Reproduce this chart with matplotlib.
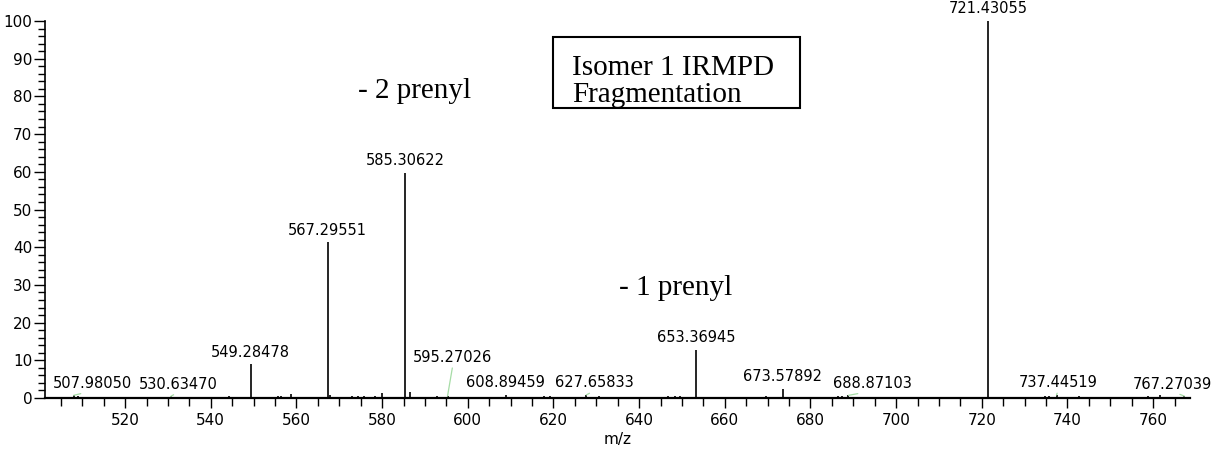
import numpy as np
import matplotlib
matplotlib.use("Agg")
from matplotlib import pyplot as plt
from matplotlib.patches import Rectangle
from matplotlib.ticker import MultipleLocator

# Centroided peaks: m/z and relative abundance (%)
mz = [507.98050, 509.0, 530.63470, 531.2, 544.3, 549.28478, 555.6, 556.3,
      558.7, 567.29551, 567.9, 572.9, 574.3, 575.8, 578.3, 579.9,
      585.30622, 586.6, 592.9, 595.27026, 602.4, 608.89459, 614.6,
      617.7, 619.3, 622.3, 627.65833, 630.6, 646.8, 648.4, 649.6,
      653.36945, 669.7, 673.57892, 686.5, 687.3, 688.87103, 694.7,
      697.4, 719.5, 721.43055, 734.8, 735.6, 737.44519, 742.8,
      758.8, 761.5, 767.27039]
intensity = [0.7, 0.4, 0.4, 0.3, 0.6, 9.0, 0.5, 0.5,
             1.0, 41.3, 0.9, 0.4, 0.6, 0.5, 0.5, 1.2,
             59.7, 1.5, 0.5, 0.5, 0.3, 0.8, 0.3,
             0.4, 0.4, 0.3, 0.8, 0.4, 0.4, 0.4, 0.4,
             12.8, 0.5, 2.4, 0.4, 0.4, 0.7, 0.3,
             0.2, 0.3, 100.0, 0.4, 0.4, 0.8, 0.6,
             0.4, 0.7, 0.5]

# Peaks that carry an m/z label
labeled = [507.98050, 530.63470, 549.28478, 567.29551, 585.30622,
           595.27026, 608.89459, 627.65833, 653.36945, 673.57892,
           688.87103, 721.43055, 737.44519, 767.27039]
# where the label text is centred (m/z) when it is moved off the peak
label_x = {507.98050: 512.3, 530.63470: 532.4, 595.27026: 596.5,
           627.65833: 629.6, 688.87103: 694.5, 737.44519: 737.8,
           767.27039: 764.6}
label_y = {595.27026: 8.7}

fig = plt.figure(figsize=(12.13, 4.53), dpi=100)
ax = fig.add_axes([45 / 1213, 1 - 398 / 453, 1145 / 1213, 377 / 453])

ax.vlines(mz, 0, intensity, color="black", lw=1.2)

peak_h = dict(zip(mz, intensity))
for m in labeled:
    h = peak_h[m]
    tx = label_x.get(m, m)
    ty = label_y.get(m, h + 1.2)
    if tx != m:
        ax.annotate(f"{m:.5f}", xy=(m, h), xytext=(tx, ty), ha="center",
                    va="bottom", fontsize=10.5, family="DejaVu Sans",
                    annotation_clip=False,
                    arrowprops=dict(arrowstyle="-", color="#a6dca6", lw=0.9,
                                    shrinkA=0, shrinkB=0, relpos=(0.5, 0)))
    else:
        ax.text(tx, ty, f"{m:.5f}", ha="center", va="bottom", fontsize=10.5,
                family="DejaVu Sans")

ax.text(587.5, 81.4, "- 2 prenyl", ha="center", va="center", fontsize=21,
        family="Liberation Serif")
ax.text(648.6, 29.2, "- 1 prenyl", ha="center", va="center", fontsize=21,
        family="Liberation Serif")

# title box
fig.patches.append(Rectangle((553 / 1213, 1 - 108 / 453), 247 / 1213,
                             71 / 453, transform=fig.transFigure,
                             fill=False, edgecolor="black", lw=1.5))
fig.text(572 / 1213, 1 - 68 / 453, "Isomer 1 IRMPD", ha="left",
         va="center", fontsize=21, family="Liberation Serif")
fig.text(572 / 1213, 1 - 95 / 453, "Fragmentation", ha="left",
         va="center", fontsize=21, family="Liberation Serif")

ax.set_xlim(501.3, 768.6)
ax.set_ylim(0, 100)
ax.xaxis.set_major_locator(MultipleLocator(20))
ax.xaxis.set_minor_locator(MultipleLocator(5))
ax.yaxis.set_major_locator(MultipleLocator(10))
ax.yaxis.set_minor_locator(MultipleLocator(2))
ax.tick_params(axis="x", which="major", length=7.5, width=1, pad=3,
               labelsize=11)
ax.tick_params(axis="x", which="minor", length=6, width=1)
ax.tick_params(axis="y", which="major", length=8, width=1, pad=1,
               labelsize=11)
ax.tick_params(axis="y", which="minor", length=5, width=1)
for lab in ax.get_xticklabels() + ax.get_yticklabels():
    lab.set_family("DejaVu Sans")

ax.spines["top"].set_visible(False)
ax.spines["right"].set_visible(False)
ax.spines["bottom"].set_linewidth(1.6)
ax.spines["left"].set_linewidth(1.2)
ax.set_xlabel("m/z", fontsize=11, family="DejaVu Sans", labelpad=3)

fig.savefig("out.png", dpi=100)
